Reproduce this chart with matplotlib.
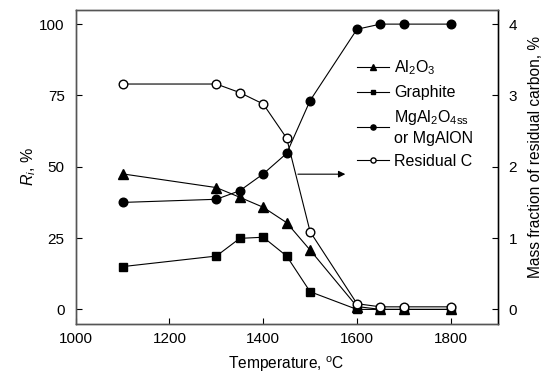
import matplotlib
matplotlib.use('Agg')
import matplotlib.pyplot as plt

# font setup (Arial-like)
plt.rcParams['font.family'] = ['Liberation Sans', 'DejaVu Sans']
plt.rcParams['mathtext.fontset'] = 'custom'
plt.rcParams['mathtext.rm'] = 'Liberation Sans'
plt.rcParams['mathtext.it'] = 'Liberation Sans:italic'
plt.rcParams['font.size'] = 11.5

# data
temp = [1100, 1300, 1350, 1400, 1450, 1500, 1600, 1650, 1700, 1800]
al2o3 = [47.5, 42.7, 39.3, 35.8, 30.4, 20.8, 1.0, 0, 0, 0]
graphite = [15.0, 18.7, 24.9, 25.3, 18.7, 6.2, 0, 0, 0, 0]
spinel = [37.5, 38.6, 41.6, 47.5, 54.7, 73.2, 98.2, 100, 100, 100]
residual_c = [3.16, 3.16, 3.04, 2.88, 2.40, 1.09, 0.08, 0.036, 0.036, 0.036]

fig = plt.figure(figsize=(5.45, 3.79), dpi=100)
ax = fig.add_axes([0.139, 0.146, 0.774, 0.828])
ax2 = ax.twinx()

lw = 0.8
ax.plot(temp, al2o3, color='black', lw=lw, marker='^', ms=6.5, label='Al$_2$O$_3$')
ax.plot(temp, graphite, color='black', lw=lw, marker='s', ms=6, label='Graphite')
ax.plot(temp, spinel, color='black', lw=lw, marker='o', ms=6.2,
        label='MgAl$_2$O$_{\\mathrm{4ss}}$\nor MgAlON')
ax2.plot(temp, residual_c, color='black', lw=lw, marker='o', ms=6.2,
         mfc='white', mec='black', label='Residual C')

ax.set_xlim(1000, 1900)
ax.set_ylim(-5, 105)
ax2.set_ylim(-0.2, 4.2)
ax.set_xticks([1000, 1200, 1400, 1600, 1800])
ax.set_yticks([0, 25, 50, 75, 100])
ax2.set_yticks([0, 1, 2, 3, 4])

for a in (ax, ax2):
    a.tick_params(direction='in', length=4, width=0.8, labelsize=11, colors='black')
    for s in a.spines.values():
        s.set_color('#555555')
        s.set_linewidth(1.0)
ax2.spines['right'].set_color('black')
ax.tick_params(axis='y', pad=8)
ax2.tick_params(axis='y', pad=8)
ax.tick_params(axis='x', pad=6)

ax.set_xlabel('Temperature, $^{\\rm o}$C', fontsize=11.2, labelpad=6)
ax.set_ylabel('$R_i$, %', fontsize=11.5, labelpad=1)
ax2.set_ylabel('Mass fraction of residual carbon, %', fontsize=11.2)
ax2.yaxis.set_label_coords(1.072, 0.53)

# arrow pointing to the right axis
ax.annotate('', xy=(1581, 47.4), xytext=(1468, 47.4),
            arrowprops=dict(arrowstyle='-|>', color='black', lw=0.8,
                            mutation_scale=10))

h1, l1 = ax.get_legend_handles_labels()
h2, l2 = ax2.get_legend_handles_labels()
leg = ax2.legend(h1 + h2, l1 + l2, loc='upper left', bbox_to_anchor=(0.667, 0.845),
                 frameon=False, fontsize=11.5, markerscale=0.6, handlelength=2.0,
                 handletextpad=0.3, labelspacing=0.5, borderaxespad=0, borderpad=0)
for t in leg.get_texts():
    t.set_linespacing(1.3)

fig.savefig('out.png', dpi=100)
